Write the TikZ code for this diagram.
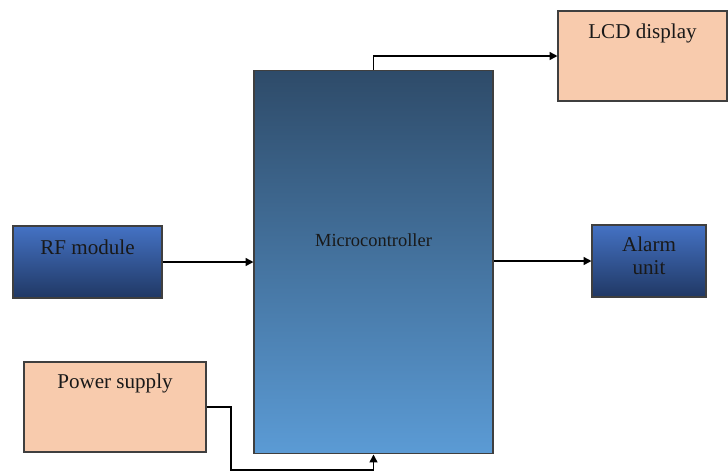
\documentclass[tikz,border=0pt]{standalone}
\usepackage{fontspec}
\setmainfont{Liberation Serif}
\usetikzlibrary{arrows.meta}

\definecolor{peach}{HTML}{F8CBAD}
\definecolor{edgegray}{HTML}{3F3F3F}
\definecolor{mictop}{HTML}{2E4B69}
\definecolor{micbot}{HTML}{5B9BD5}
\definecolor{blutop}{HTML}{4472C4}
\definecolor{blubot}{HTML}{203864}

\tikzset{
  block/.style={draw=edgegray, line width=0.6pt, inner sep=0pt},
  peachblock/.style={block, fill=peach},
  blueblock/.style={block, top color=blutop, bottom color=blubot},
  toptext/.style={anchor=center, font=\fontsize{12}{13}\selectfont, text=black!90},
  wire/.style={line width=0.85pt, -{Triangle[length=4.5pt,width=4.5pt]}}
}

\begin{document}
\begin{tikzpicture}[x=0.02cm, y=-0.02cm]
        \useasboundingbox (0,0) rectangle (728,471);
        \node [block, top color=mictop, bottom color=micbot,
               minimum width=4.78cm, minimum height=7.68cm,
               label={[anchor=center, font=\fontsize{10.5}{12}\selectfont, text=black!90, yshift=0.44cm]center:Microcontroller}]
               (micro) at (373.5,262) {};
        \node [peachblock, minimum width=3.38cm, minimum height=1.8cm,
               label={[toptext, yshift=-0.46cm]north:LCD display}] (lcd) at (642.5,56) {};
        \node [blueblock, minimum width=2.98cm, minimum height=1.44cm,
               label={[toptext, yshift=-0.44cm]north:RF module}] (rf) at (87.5,262) {};
        \node [blueblock, minimum width=2.28cm, minimum height=1.44cm,
               label={[toptext, align=center, yshift=-0.63cm]north:Alarm\\unit}] (alarm) at (649,261) {};
        \node [peachblock, minimum width=3.64cm, minimum height=1.8cm,
               label={[toptext, yshift=-0.44cm]north:Power supply}] (power) at (115,407) {};
        \coordinate (psbend) at (231,470);
        \draw [wire] (micro.north) |- (lcd.west);
        \draw [wire] (rf.east) -- (rf.east -| micro.west);
        \draw [wire] (micro.east |- alarm.west) -- (alarm.west);
        \draw [wire] (power.east) -| (psbend) -| (micro.south);
      \end{tikzpicture}
\end{document}
